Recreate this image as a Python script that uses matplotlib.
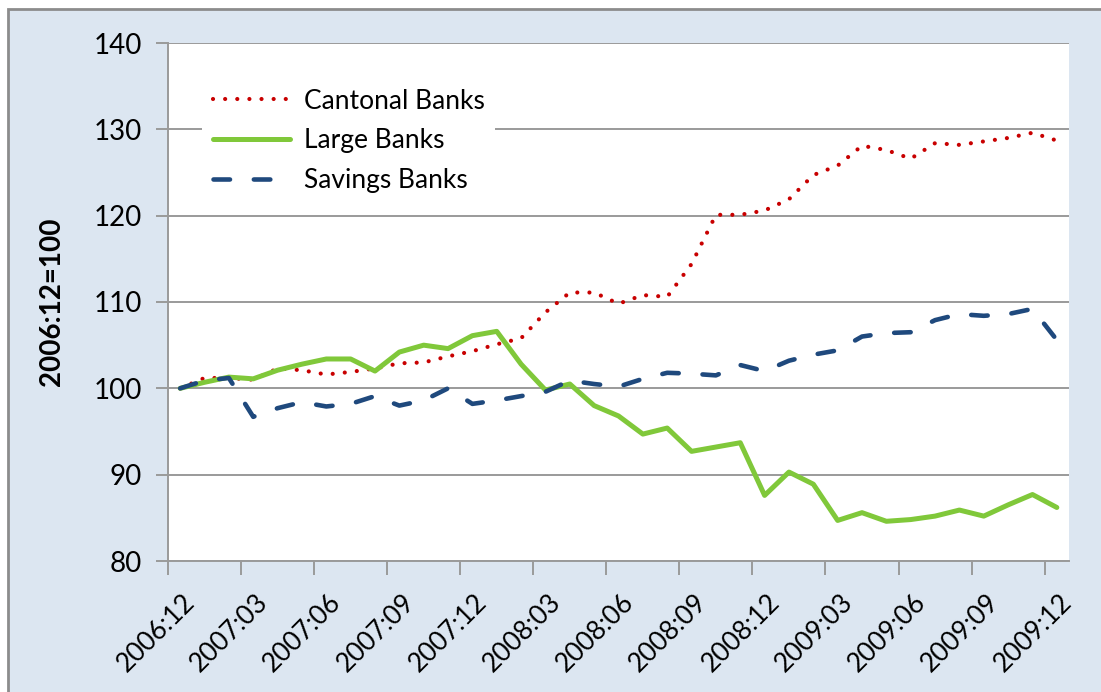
import matplotlib
matplotlib.use("Agg")
import matplotlib.pyplot as plt
import matplotlib.transforms as mtransforms
from matplotlib.patches import Rectangle
import pandas as pd

# monthly index, 2006:12 = 100
months = [p.strftime("%Y:%m") for p in pd.period_range("2006-12", "2009-12", freq="M")]

cantonal = [100, 101.2, 101.2, 101.0, 102.3, 102.1, 101.6, 101.9, 102.3, 102.9,
            103.0, 103.7, 104.3, 105.1, 105.8, 108.8, 111.1, 111.1, 109.8, 110.8,
            110.6, 114.4, 120.1, 120.1, 120.6, 121.9, 124.7, 125.8, 128.1, 127.6,
            126.6, 128.4, 128.2, 128.6, 129.0, 129.6, 128.7]
large = [100, 100.7, 101.3, 101.1, 102.1, 102.8, 103.4, 103.4, 102.0, 104.2,
         105.0, 104.6, 106.1, 106.6, 102.8, 99.8, 100.5, 98.0, 96.8, 94.7,
         95.4, 92.7, 93.2, 93.7, 87.6, 90.3, 88.9, 84.7, 85.6, 84.6,
         84.8, 85.2, 85.9, 85.2, 86.5, 87.7, 86.2]
savings = [100, 100.9, 101.2, 96.7, 97.7, 98.4, 97.9, 98.2, 99.1, 98.0,
           98.6, 100.0, 98.2, 98.6, 99.1, 99.6, 100.9, 100.5, 100.2, 101.1,
           101.8, 101.7, 101.5, 102.7, 102.0, 103.2, 103.9, 104.4, 106.0, 106.4,
           106.5, 107.9, 108.6, 108.4, 108.6, 109.2, 105.6]

BG = "#dce6f1"
GRID = "#9a9a9a"

plt.rcParams["font.family"] = ["Lato", "DejaVu Sans"]

fig = plt.figure(figsize=(11.01, 6.92), dpi=100, facecolor="white")
fig.add_artist(Rectangle((8 / 1101, -0.1), 1.1, 1.1 - 9 / 692,
                         transform=fig.transFigure, facecolor=BG,
                         edgecolor="#8c8c8c", lw=2, zorder=-10))

ax = fig.add_axes([168 / 1101, (692 - 561) / 692, (1069 - 168) / 1101, (561 - 43) / 692])
ax.set_facecolor("white")

x = list(range(len(months)))
ax.plot(x, cantonal, color="#c80000", lw=3.0, dashes=(0.01, 2.9),
        dash_capstyle="round", label="Cantonal Banks", zorder=3)
ax.plot(x, large, color="#80c83a", lw=3.6, solid_capstyle="round",
        label="Large Banks", zorder=3)
ax.plot(x, savings, color="#1f497d", lw=3.3, dashes=(3.6, 5.2),
        dash_capstyle="round", label="Savings Banks", zorder=3)

ax.set_xlim(-0.5, len(months) - 0.5)
ax.set_ylim(80, 140)
ax.set_yticks(range(80, 141, 10))
ax.grid(axis="y", color=GRID, lw=1.4)
ax.set_axisbelow(True)

# ticks on category boundaries, labels on every 3rd month
ax.set_xticks([i - 0.5 for i in x[::3]])
ax.set_xticklabels([])
ax.tick_params(axis="x", length=10, width=1.4, color=GRID)
ax.tick_params(axis="y", length=9, width=1.4, color=GRID, pad=10, labelsize=20)

shift = mtransforms.ScaledTranslation(11 / 100, -37 / 100, fig.dpi_scale_trans)
lab_tr = ax.get_xaxis_transform() + shift
for i in x[::3]:
    ax.text(i, 0, months[i], transform=lab_tr, rotation=45, ha="right",
            va="center", rotation_mode="anchor", fontsize=19, clip_on=False)

for side in ("top", "right"):
    ax.spines[side].set_visible(False)
for side in ("left", "bottom"):
    ax.spines[side].set_color(GRID)
    ax.spines[side].set_linewidth(1.4)

ax.set_ylabel("2006:12=100", fontsize=20, fontweight="bold")
ax.yaxis.set_label_coords((65 - 168) / 901, 0.5)

leg = ax.legend(loc="upper left", bbox_to_anchor=(202 / 1101, 1 - 78 / 692),
                bbox_transform=fig.transFigure, fontsize=19, frameon=True,
                facecolor="white", edgecolor="none", framealpha=1,
                handlelength=2.95, handletextpad=0.5, labelspacing=0.56,
                borderaxespad=0, borderpad=0.4, fancybox=False)
leg.set_zorder(5)

fig.savefig("out.png", dpi=100, facecolor=fig.get_facecolor())
